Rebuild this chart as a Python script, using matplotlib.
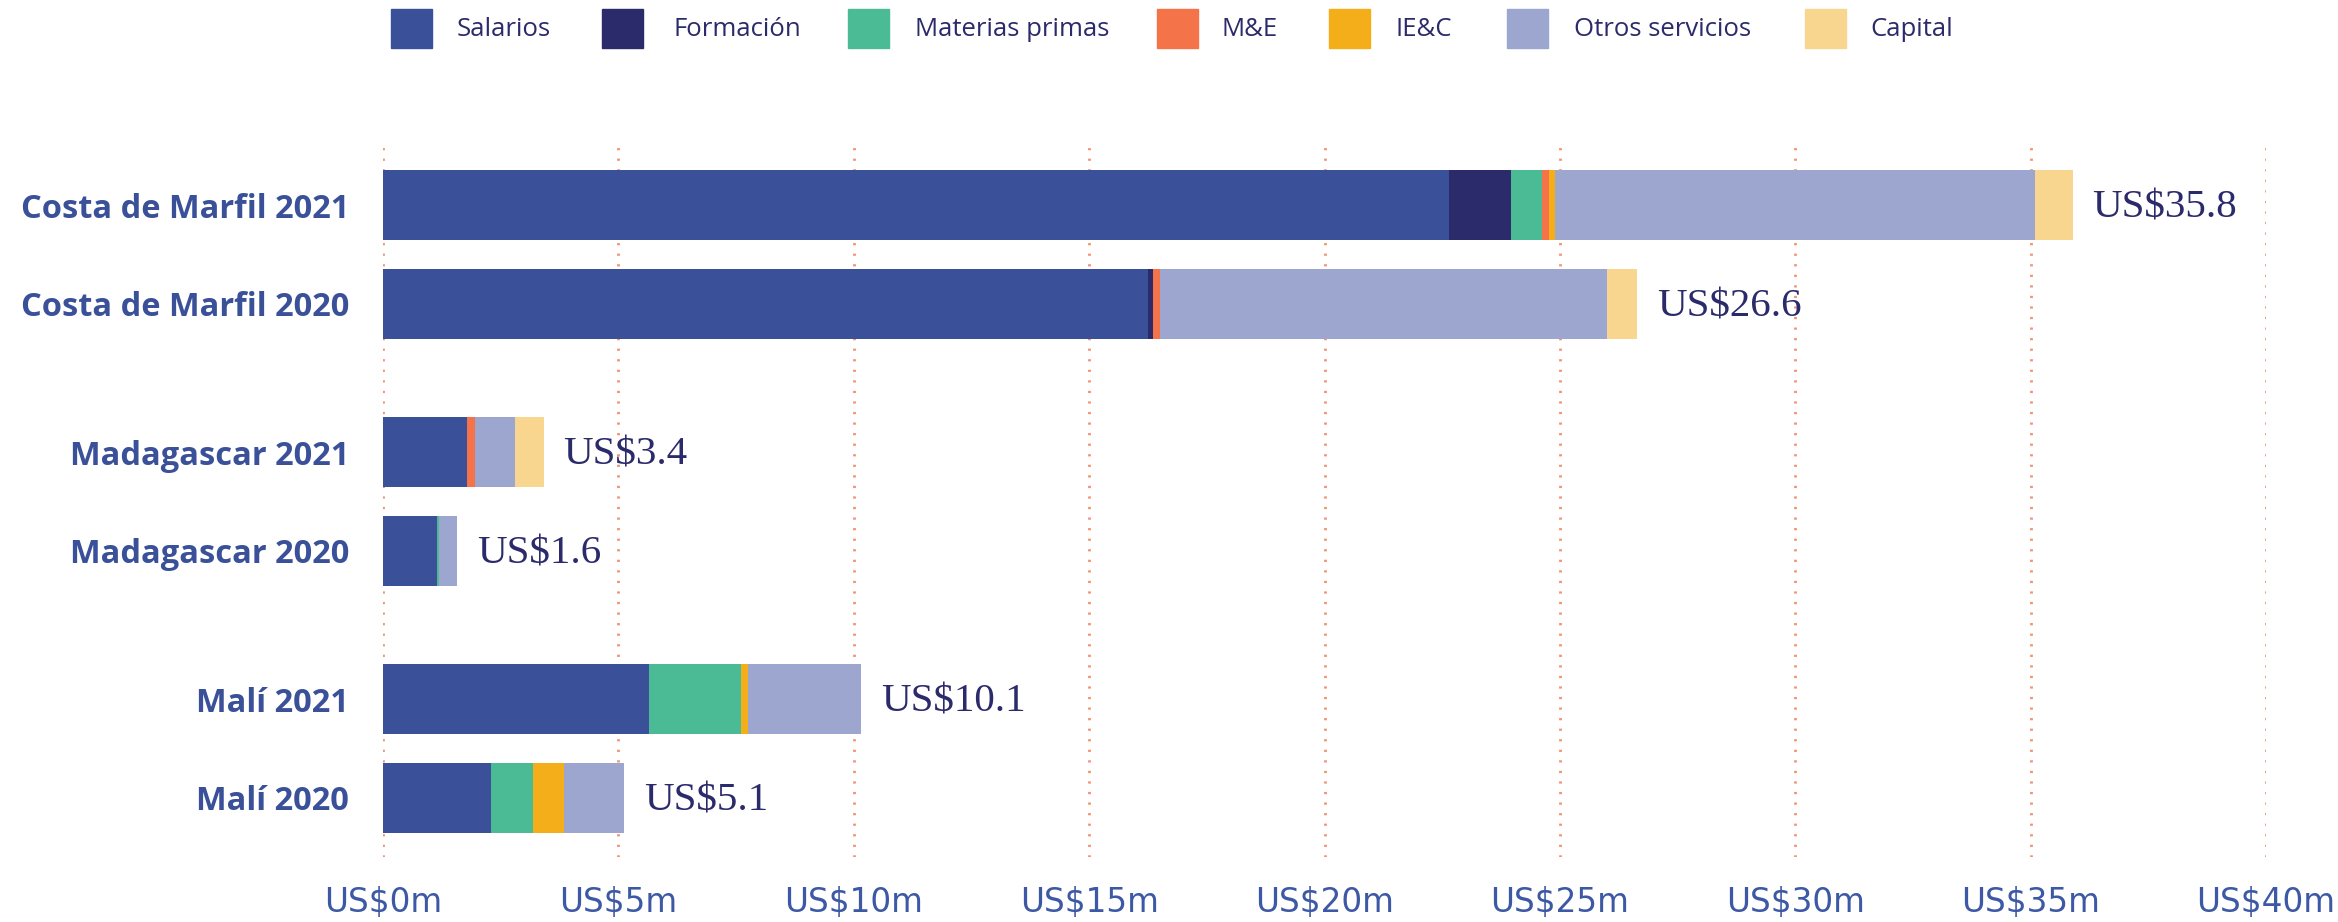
import matplotlib
matplotlib.use("Agg")
import matplotlib.pyplot as plt
from matplotlib.patches import Rectangle
import numpy as np

categories = ["Costa de Marfil 2021", "Costa de Marfil 2020",
              "Madagascar 2021", "Madagascar 2020",
              "Malí 2021", "Malí 2020"]
series_names = ["Salarios", "Formación", "Materias primas", "M&E", "IE&C",
                "Otros servicios", "Capital"]
salarios = [22.65, 16.26, 1.78, 1.15, 5.64, 2.29]
formacion = [1.32, 0.09, 0.0, 0.0, 0.0, 0.0]
materias_primas = [0.65, 0.0, 0.0, 0.04, 1.96, 0.89]
mye = [0.14, 0.16, 0.18, 0.0, 0.0, 0.0]
iec = [0.14, 0.0, 0.0, 0.0, 0.15, 0.67]
otros_servicios = [10.19, 9.50, 0.84, 0.39, 2.41, 1.28]
capital = [0.80, 0.63, 0.61, 0.0, 0.0, 0.0]
total_labels = ["US$35.8", "US$26.6", "US$3.4", "US$1.6", "US$10.1", "US$5.1"]
xticks = [0, 5, 10, 15, 20, 25, 30, 35, 40]
xtick_labels = ["US$0m", "US$5m", "US$10m", "US$15m", "US$20m", "US$25m",
                "US$30m", "US$35m", "US$40m"]

colors = ["#3a5199", "#2b2a6b", "#4abb94", "#f47348", "#f4ae1a", "#9da6cf", "#f9d68f"]
series = [salarios, formacion, materias_primas, mye, iec, otros_servicios, capital]

W, H = 2338, 922
fig = plt.figure(figsize=(W / 100, H / 100), dpi=100)
ax = fig.add_axes([383 / W, 65 / H, (2266 - 383) / W, (857 - 146) / H])

# positions: pairs of bars per country with larger gap between countries
ypos = []
for g in range(3):
    ypos += [g * 2.5, g * 2.5 + 1]
ypos = np.array(ypos)

for x in xticks:
    ax.axvline(x, color="#f3926f", lw=2.0, linestyle=(0, (0.8, 3.0)), zorder=0)

left = np.zeros(len(categories))
for vals, col, name in zip(series, colors, series_names):
    v = np.array(vals)
    ax.barh(ypos, v, left=left, height=0.71, color=col, label=name,
            edgecolor="none", zorder=2)
    left += v

for y, tot, lab in zip(ypos, left, total_labels):
    ax.text(tot + 0.42, y + 0.03, lab, va="center", ha="left",
            fontfamily="Liberation Serif", fontsize=29.5, color="#2b2a6b")

ax.set_xlim(0, 40)
ax.set_ylim(6.597, -0.597)
ax.set_yticks(ypos)
ax.set_yticklabels(categories, fontfamily="Open Sans", fontweight="bold",
                   fontsize=23.5, color="#3a5199")
ax.set_xticks(xticks)
ax.set_xticklabels(xtick_labels, fontfamily="DejaVu Sans", fontsize=23.5,
                   color="#3d58a5")
ax.tick_params(axis="y", length=0, pad=24.5)
ax.tick_params(axis="x", length=0, pad=21)
for s in ax.spines.values():
    s.set_visible(False)

# legend
patch_x = [391, 602, 848, 1157, 1329, 1507, 1805]
text_x = [457, 673, 915, 1222, 1396, 1574, 1870]
for px, tx, col, name in zip(patch_x, text_x, colors, series_names):
    fig.patches.append(Rectangle((px / W, 1 - 48 / H), 41 / W, 39 / H,
                                 transform=fig.transFigure, color=col))
    fig.text(tx / W, 1 - 30 / H, name, ha="left", va="center",
             fontfamily="Open Sans", fontsize=18.5, color="#2b2a6b")

fig.savefig("out.png", dpi=100)
